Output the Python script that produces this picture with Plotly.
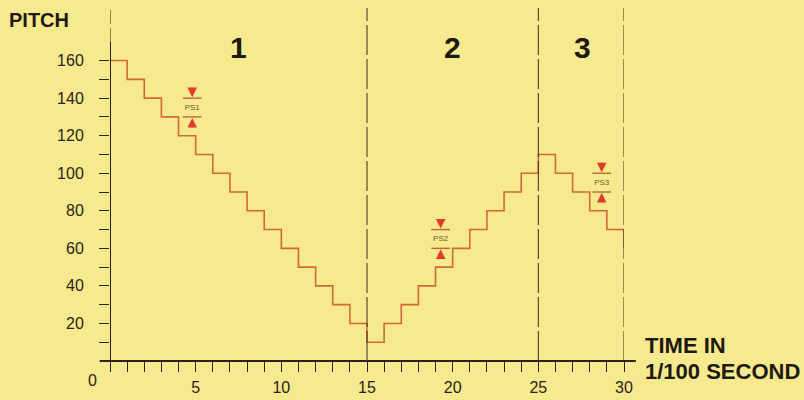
import plotly.graph_objects as go

# staircase pitch envelope, one value per 1/100 s
TIME = list(range(0, 31))
PITCH = [160, 150, 140, 130, 120, 110, 100, 90, 80, 70, 60, 50, 40, 30, 20,
         10, 20, 30, 40, 50, 60, 70, 80, 90, 100,
         110, 100, 90, 80, 70, 60]

# pitch-step markers
PS_LABELS = ["PS1", "PS2", "PS3"]
PS_X = [4.8, 19.3, 28.7]
PS_HI = [140, 70, 100]
PS_LO = [130, 60, 90]

# sections
SECTION_LABELS = ["1", "2", "3"]
SECTION_X = [7.5, 20, 27.6]
SECTION_BOUNDS = [15, 25, 30]

X_TICKS = list(range(0, 31))
X_TICK_TEXT = [str(v) if v % 5 == 0 and v > 0 else "" for v in X_TICKS]
Y_TICKS = list(range(10, 170, 10))
Y_TICK_TEXT = [str(v) if v % 20 == 0 else "" for v in Y_TICKS]

BG = "#F7E98E"
INK = "#2A2418"
STEP_COLOR = "#D2693C"
ARROW_RED = "#E23A2C"
NARROW = "Liberation Sans Narrow, Liberation Sans, Arial, sans-serif"
BOLD = "Liberation Sans, Arial, sans-serif"

fig = go.Figure()

fig.add_trace(go.Scatter(
    x=TIME, y=PITCH,
    mode="lines",
    line=dict(color=STEP_COLOR, width=1.6, shape="hv"),
    hoverinfo="skip",
))

# PS bars
bx, by = [], []
for x, hi, lo in zip(PS_X, PS_HI, PS_LO):
    for lvl in (hi, lo):
        bx += [x - 0.55, x + 0.55, None]
        by += [lvl, lvl, None]
fig.add_trace(go.Scatter(
    x=bx, y=by, mode="lines",
    line=dict(color="#B8693E", width=1.4),
    hoverinfo="skip",
))
fig.add_trace(go.Scatter(
    x=PS_X, y=[(h + l) / 2 for h, l in zip(PS_HI, PS_LO)],
    mode="text", text=PS_LABELS,
    textfont=dict(family=NARROW, size=8, color="#6B5A30"),
    hoverinfo="skip",
))

annotations = []
for x, hi, lo in zip(PS_X, PS_HI, PS_LO):
    annotations.append(dict(x=x, y=hi, ax=0, ay=-12, text="", showarrow=True,
                            arrowhead=2, arrowsize=1.2, arrowwidth=1.6,
                            arrowcolor=ARROW_RED, standoff=1))
    annotations.append(dict(x=x, y=lo, ax=0, ay=12, text="", showarrow=True,
                            arrowhead=2, arrowsize=1.2, arrowwidth=1.6,
                            arrowcolor=ARROW_RED, standoff=1))

for lab, x in zip(SECTION_LABELS, SECTION_X):
    annotations.append(dict(x=x, y=167, text=f"<b>{lab}</b>", showarrow=False,
                            font=dict(family=BOLD, size=30, color="#1E1A12")))

annotations += [
    dict(xref="paper", yref="paper", x=-0.2, y=0.966,
         xanchor="left", yanchor="middle",
         text="<b>PITCH</b>", showarrow=False,
         font=dict(family=BOLD, size=20, color="#1E1A12")),
    dict(xref="paper", yref="paper", x=1.036, y=0.045,
         xanchor="left", yanchor="middle",
         text="<b>TIME IN</b>", showarrow=False,
         font=dict(family=BOLD, size=22, color="#1E1A12")),
    dict(xref="paper", yref="paper", x=1.036, y=-0.031,
         xanchor="left", yanchor="middle",
         text="<b>1/100 SECOND</b>", showarrow=False,
         font=dict(family=BOLD, size=22, color="#1E1A12")),
    dict(xref="paper", yref="paper", x=-0.035, y=-0.054,
         xanchor="center", yanchor="middle",
         text="0", showarrow=False,
         font=dict(family=NARROW, size=16, color=INK)),
]

shapes = [
    # x-axis line, a bit longer than the plot area
    dict(type="line", xref="paper", yref="paper", x0=-0.02, x1=1.023, y0=0, y1=0,
         line=dict(color=INK, width=2)),
    # y-axis: solid part and dashed continuation
    dict(type="line", xref="x", yref="y", x0=0, x1=0, y0=0, y1=170,
         line=dict(color=INK, width=2)),
    dict(type="line", xref="x", yref="y", x0=0, x1=0, y0=170, y1=188,
         line=dict(color=INK, width=1, dash="14px,4px")),
]
for b in SECTION_BOUNDS:
    shapes.append(dict(type="line", xref="x", yref="y", x0=b, x1=b, y0=0, y1=188,
                       line=dict(color="#3A3020", width=1, dash="30px,4px")))

fig.update_layout(
    width=804, height=400,
    margin=dict(l=110, r=180, t=8, b=39),
    paper_bgcolor=BG, plot_bgcolor=BG,
    showlegend=False,
    xaxis=dict(
        range=[0, 30], tickvals=X_TICKS, ticktext=X_TICK_TEXT,
        ticks="outside", ticklen=10, tickwidth=1.2, tickcolor=INK,
        showgrid=False, zeroline=False, showline=False,
        ticklabelstandoff=2, automargin=False,
        tickfont=dict(family=NARROW, size=16, color=INK),
    ),
    yaxis=dict(
        range=[0, 188], tickvals=Y_TICKS, ticktext=Y_TICK_TEXT,
        ticks="outside", ticklen=10, tickwidth=1.2, tickcolor=INK,
        showgrid=False, zeroline=False, showline=False,
        ticklabelstandoff=12, automargin=False,
        tickfont=dict(family=NARROW, size=16, color=INK),
    ),
    shapes=shapes,
    annotations=annotations,
)

# drop the default page margin so the figure sits at the window's corner
fig.write_html("out.html", config={"displayModeBar": False},
               post_script="document.body.style.margin='0';")
